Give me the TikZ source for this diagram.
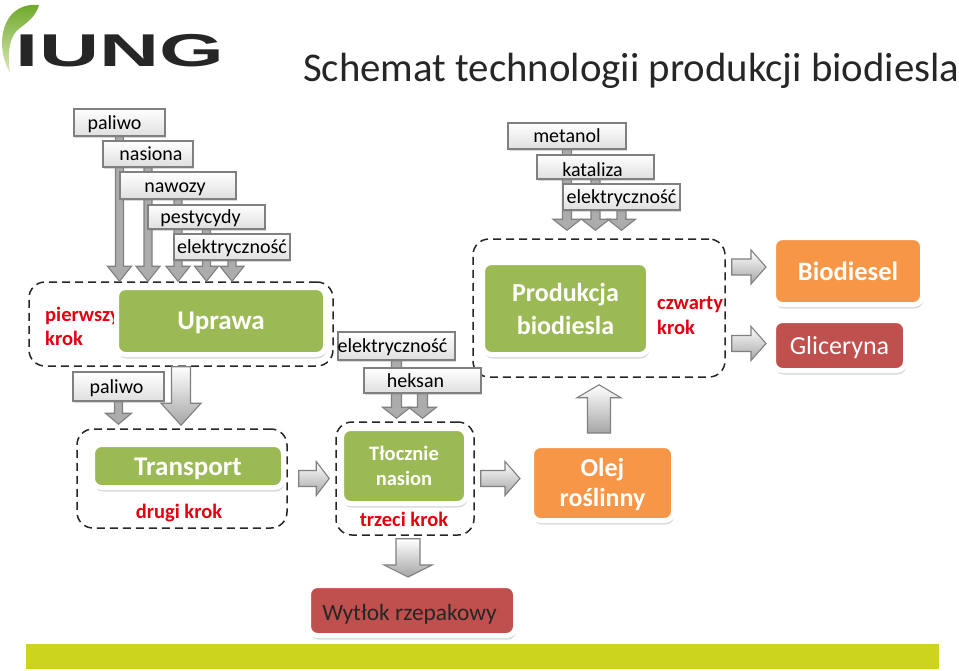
\documentclass[tikz,border=0pt]{standalone}
\usepackage{fontspec}
\setmainfont{Carlito}
\newfontfamily\logofont{Liberation Sans}
\usetikzlibrary{calc,shadows}

\newcommand{\px}[1]{\fontsize{#1}{#1}\selectfont}
\newcommand{\dropped}[2]{\raisebox{-#1pt}[0pt][0pt]{#2}}
\newcommand{\flowarrow}[6][flow]{%
  \coordinate (fa) at #2;
  \coordinate (fb) at #3;
  \coordinate (fh) at ($(fb)!#6pt!(fa)$);
  \path[#1] ($(fa)!#4pt!90:(fb)$) -- ($(fh)!#4pt!90:(fb)$) -- ($(fh)!#5pt!90:(fb)$) -- (fb)
    -- ($(fh)!#5pt!-90:(fb)$) -- ($(fh)!#4pt!-90:(fb)$) -- ($(fa)!#4pt!-90:(fb)$) -- cycle;
}
\definecolor{leafgreen}{HTML}{9BB955}
\definecolor{leaftop}{HTML}{6EA82B}
\definecolor{leafpale}{HTML}{DCE9B8}
\definecolor{oilorange}{HTML}{F79646}
\definecolor{cakered}{HTML}{C0504D}
\definecolor{stepred}{HTML}{E3000F}
\definecolor{barlime}{HTML}{CDD41E}

\tikzset{
  feed/.style={draw=gray, line width=1.5pt, top color=white, bottom color=gray!25, inner sep=0pt,
    font=\px{20}, text=black, text height=17pt, text depth=4pt, drop shadow={shadow xshift=1pt, shadow yshift=-1.5pt, opacity=.3}},
  stage/.style={draw=white, fill=leafgreen, line width=5pt, rounded corners=9pt, inner sep=0pt, align=center,
    text=white, drop shadow={shadow xshift=1pt, shadow yshift=-4pt, opacity=.3}},
  frame/.style={draw=black!85, line width=1.5pt, dash pattern=on 8pt off 5pt, rounded corners=16pt, inner sep=0pt},
  steptext/.style={text=stepred, font=\px{20.5}\bfseries, align=left, inner sep=0pt},
  flow/.style={draw=gray, line width=1.1pt, top color=white, bottom color=gray!70},
  feedflow/.style={draw=gray, line width=1.1pt, fill=gray!65}
}

\begin{document}
\begin{tikzpicture}[x=1pt, y=-1pt]
  \useasboundingbox (0,0) rectangle (959,670);
  % logo and title
  \path[top color=leaftop, bottom color=leafpale, draw=none] (10,73) .. controls (0,55) and (-2,30) .. (12,14) .. controls (20,6) and (30,4) .. (39,5) .. controls (36,16) and (28,22) .. (20,28) .. controls (10,35) and (7,50) .. (10,73) -- cycle;
  \node[text=black!85, inner sep=0pt, font=\logofont\bfseries\px{46}] (logo) at (120,51) {\scalebox{1.81}[1]{IUNG}};
  \node[anchor=base west, inner sep=0pt, font=\px{40.8}, text=black!85] (title) at (303,81) {Schemat technologii produkcji biodiesla};
  \fill[barlime] (26,644) rectangle (939,669);

  % dashed step frames
  \node[frame, minimum width=304pt, minimum height=84pt] (frameone) at (181,324) {};
  \node[frame, minimum width=210pt, minimum height=99pt] (frametwo) at (182,478.5) {};
  \node[frame, minimum width=138pt, minimum height=113pt] (framethree) at (405,478.5) {};
  \node[frame, minimum width=252pt, minimum height=138pt] (framefour) at (599,308) {};
  \node[steptext, anchor=west] (stepone) at (45,326) {pierwszy\\[3.5pt]krok};
  \node[steptext] (steptwo) at (179,513) {drugi krok};
  \node[steptext] (stepthree) at (404,519) {trzeci krok};
  \node[steptext, anchor=west] (stepfour) at (657,315.5) {czwarty\\[4pt]krok};

  % inputs of the first step
  \node[feed, minimum width=91pt, minimum height=27pt] (paliwoa) at (119.5,122.5) {paliwo\hspace*{10pt}};
  \flowarrow[feedflow]{(paliwoa.south)}{(paliwoa.south |- frameone.north)}{4}{12}{15}
  \node[feed, minimum width=90pt, minimum height=26pt] (nasiona) at (148,154) {\hspace*{6pt}nasiona};
  \flowarrow[feedflow]{(nasiona.south)}{(nasiona.south |- frameone.north)}{4}{12}{15}
  \node[feed, minimum width=116pt, minimum height=27pt] (nawozy) at (178,185.5) {nawozy\hspace*{6pt}};
  \flowarrow[feedflow]{(nawozy.south)}{(nawozy.south |- frameone.north)}{4}{12}{15}
  \node[feed, minimum width=117pt, minimum height=24pt] (pestycydy) at (206.5,217) {pestycydy\hspace*{12pt}};
  \flowarrow[feedflow]{(pestycydy.south)}{(pestycydy.south |- frameone.north)}{4}{12}{15}
  \node[feed, minimum width=116pt, minimum height=26pt] (elektrone) at (232,247) {elektryczność};
  \flowarrow[feedflow]{(elektrone.south)}{(elektrone.south |- frameone.north)}{4}{12}{15}
  \node[stage, minimum width=209pt, minimum height=67pt, font=\px{27}\bfseries] (uprawa) at (221,321) {\dropped{8.5}{Uprawa}};

  % inputs of the second step
  \node[feed, minimum width=91pt, minimum height=29pt] (paliwob) at (118.5,386.5) {paliwo\hspace*{4pt}};
  \flowarrow[feedflow]{(paliwob.south)}{($(paliwob.south |- frametwo.north)+(0,-4)$)}{4}{13}{11}
  \flowarrow{(frameone.south)}{($(frameone.south |- frametwo.north)+(0,-3)$)}{9.5}{20}{22}
  \node[stage, minimum width=191pt, minimum height=43pt, font=\px{27}\bfseries] (transport) at (188,466) {\dropped{9.5}{Transport}};
  \flowarrow{($(frametwo.east)+(11,0)$)}{($(framethree.west)+(-6,0)$)}{8}{17}{13}

  % inputs of the third step
  \node[feed, minimum width=117pt, minimum height=28pt] (elektrtwo) at (396.5,346) {\hspace*{-8pt}elektryczność};
  \flowarrow[feedflow]{(elektrtwo.south)}{($(elektrtwo.south |- framethree.north)+(0,-3)$)}{5}{14}{11}
  \node[feed, minimum width=117pt, minimum height=25pt] (heksan) at (422.5,380.5) {heksan\hspace*{14pt}};
  \flowarrow[feedflow]{(heksan.south)}{($(heksan.south |- framethree.north)+(0,-3)$)}{5}{14}{11}
  \node[stage, minimum width=125pt, minimum height=75pt, font=\px{20.5}\bfseries] (tlocznie) at (404,466) {Tłocznie\\[4pt]nasion};
  \node[stage, fill=oilorange, minimum width=142pt, minimum height=75pt, font=\px{26}\bfseries] (olej) at (602.5,483) {\rule{0pt}{21pt}Olej\\[4pt]roślinny};
  \flowarrow{($(framethree.east)+(6,0)$)}{($(framethree.east -| olej.west)+(-9,0)$)}{8}{17}{15}

  % fourth step and its products
  \node[feed, minimum width=118pt, minimum height=26pt] (metanol) at (567,136) {metanol};
  \flowarrow[feedflow]{(metanol.south)}{($(metanol.south |- framefour.north)+(0,-8)$)}{4.5}{14}{11}
  \node[feed, minimum width=117pt, minimum height=24pt] (kataliza) at (595.5,167) {\raisebox{-3pt}{kataliza\hspace*{6pt}}};
  \flowarrow[feedflow]{(kataliza.south)}{($(kataliza.south |- framefour.north)+(0,-8)$)}{4.5}{14}{11}
  \node[feed, minimum width=117pt, minimum height=26pt] (elektrthree) at (621.5,197) {elektryczność};
  \flowarrow[feedflow]{(elektrthree.south)}{($(elektrthree.south |- framefour.north)+(0,-8)$)}{4.5}{14}{11}
  \node[stage, minimum width=166pt, minimum height=92pt, font=\px{26}\bfseries] (produkcja) at (565.5,308.5) {Produkcja\\[7pt]biodiesla};

  \node[stage, fill=oilorange, minimum width=149pt, minimum height=67pt, font=\px{26.5}\bfseries] (biodiesel) at (848,271) {Biodiesel};
  \node[stage, fill=cakered, minimum width=132pt, minimum height=50pt, font=\px{26}] (gliceryna) at (839.5,345.5) {\dropped{8.5}{Gliceryna}};
  \flowarrow{($(framefour.east |- biodiesel.west)+(6,-4)$)}{($(biodiesel.west)+(-5,-4)$)}{8}{17}{15}
  \flowarrow{($(framefour.east |- gliceryna.west)+(6,-2)$)}{($(gliceryna.west)+(-5,-2)$)}{8}{17}{15}

  \node[stage, fill=cakered, text=black!85, minimum width=207pt, minimum height=50pt, font=\px{23.4}] (wytlok) at (412,610.5) {\dropped{9.5}{Wytłok rzepakowy}\hspace*{5pt}};
  \flowarrow{($(framefour.south |- olej.north)+(0,-10)$)}{($(framefour.south)+(0,7)$)}{11.5}{22}{13}
  \flowarrow{($(framethree.south)+(3,3)$)}{($(framethree.south |- wytlok.north)+(3,-6)$)}{12}{24}{12}
\end{tikzpicture}
\end{document}
